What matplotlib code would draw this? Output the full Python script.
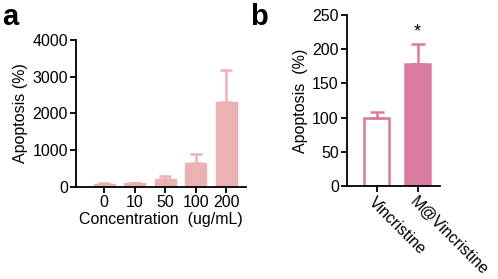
import matplotlib.pyplot as plt
import numpy as np

plt.rcParams['font.family'] = ['Liberation Sans', 'DejaVu Sans']

# panel a data
conc = ['0', '10', '50', '100', '200']
apop_a = [85, 95, 210, 645, 2320]
err_a = [20, 25, 95, 255, 860]

# panel b data
groups = ['Vincristine', 'M@Vincristine']
apop_b = [100, 179]
err_b = [9, 29]

pink_a = '#ebb2b4'
pink_b = '#d97b9e'

fig = plt.figure(figsize=(4.98, 2.79), dpi=100)

# ---- panel a
ax1 = fig.add_axes([0.153, 0.330, 0.341, 0.527])
x = np.arange(len(conc))
ax1.bar(x, apop_a, width=0.68, color=pink_a, edgecolor=pink_a)
ax1.errorbar(x, apop_a, yerr=[np.zeros(len(err_a)), err_a], fmt='none',
             ecolor=pink_a, elinewidth=1.8, capsize=4, capthick=1.8)
ax1.set_xlim(-0.92, 4.65)
ax1.set_ylim(0, 4000)
ax1.set_yticks([0, 1000, 2000, 3000, 4000])
ax1.set_xticks(x)
ax1.set_xticklabels(conc)
ax1.set_ylabel('Apoptosis (%)', fontsize=11.5, labelpad=3)
ax1.set_xlabel('Concentration  (ug/mL)', fontsize=11.5, labelpad=1)
fig.text(0.005, 0.99, 'a', fontsize=21, fontweight='bold', va='top', ha='left')

# ---- panel b
ax2 = fig.add_axes([0.697, 0.333, 0.187, 0.613])
xb = np.arange(len(groups))
ax2.bar(xb[0], apop_b[0], width=0.62, color='white', edgecolor=pink_b, linewidth=1.8)
ax2.bar(xb[1], apop_b[1], width=0.62, color=pink_b, edgecolor=pink_b, linewidth=1.8)
ax2.errorbar(xb, apop_b, yerr=[np.zeros(len(err_b)), err_b], fmt='none',
             ecolor=pink_b, elinewidth=1.8, capsize=5, capthick=1.8)
ax2.text(xb[1], apop_b[1] + err_b[1] + 5, '*', ha='center', va='bottom', fontsize=13)
ax2.set_xlim(-0.72, 1.55)
ax2.set_ylim(0, 250)
ax2.set_yticks([0, 50, 100, 150, 200, 250])
ax2.set_xticks(xb)
ax2.set_xticklabels(groups, rotation=-45, ha='left', rotation_mode='anchor')
ax2.set_ylabel('Apoptosis  (%)', fontsize=11.5, labelpad=3)
fig.text(0.503, 0.99, 'b', fontsize=21, fontweight='bold', va='top', ha='left')

for ax in (ax1, ax2):
    for s in ('top', 'right'):
        ax.spines[s].set_visible(False)
    for s in ('left', 'bottom'):
        ax.spines[s].set_linewidth(1.3)
    ax.tick_params(width=1.3, length=4, labelsize=11.5, pad=2)

fig.savefig('out.png', dpi=100)
